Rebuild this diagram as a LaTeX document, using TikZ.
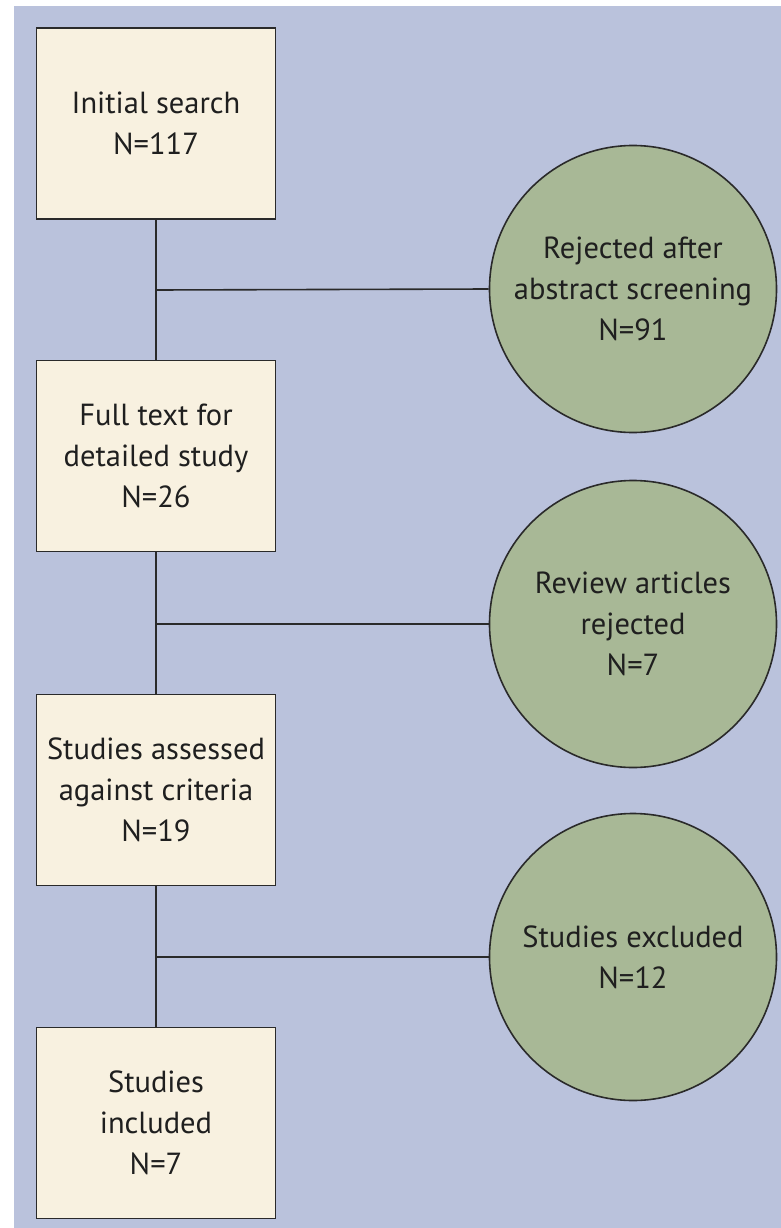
\documentclass[tikz,border=0pt]{standalone}
\usepackage{fontspec}
\setmainfont{PT Sans}
\definecolor{bgblue}{HTML}{BAC2DC}
\definecolor{boxfill}{HTML}{F8F1E0}
\definecolor{circfill}{HTML}{A8B896}
\definecolor{linec}{HTML}{2A2A2A}
\begin{document}
\begin{tikzpicture}[x=1pt,y=-1pt,
  stagebox/.style={draw=linec,line width=1.6pt,fill=boxfill,minimum width=239pt,minimum height=191pt,inner sep=0pt,align=center,font=\fontsize{30.5}{41}\selectfont,text=black!88},
  rejcirc/.style={draw=linec,line width=1.6pt,fill=circfill,circle,minimum size=287pt,inner sep=0pt,align=center,font=\fontsize{30.5}{41}\selectfont,text=black!88},
  link/.style={draw=linec,line width=1.6pt}]
\useasboundingbox (0,0) rectangle (781,1228);
\fill[white] (0,0) rectangle (781,1228);
\fill[bgblue] (14,6) rectangle (781,1228);
\coordinate (j1) at (156,290);
\coordinate (j2) at (156,624);
\coordinate (j3) at (156,957);
\node[stagebox] (b1) at (156,123.5) {Initial search\\N=117};
\node[stagebox] (b2) at (156,456) {Full text for\\detailed study\\N=26};
\node[stagebox] (b3) at (156,790) {Studies assessed\\against criteria\\N=19};
\node[stagebox] (b4) at (156,1123) {Studies\\included\\N=7};
\node[rejcirc] (c1) at (633,289) {Rejected after\\abstract screening\\N=91};
\node[rejcirc] (c2) at (633,624) {Review articles\\rejected\\N=7};
\node[rejcirc] (c3) at (633,957) {Studies excluded\\N=12};
\draw[link] (b1.south) -- (b2.north);
\draw[link] (b2.south) -- (b3.north);
\draw[link] (b3.south) -- (b4.north);
\draw[link] (j1) -- (c1.west);
\draw[link] (j2) -- (c2.west);
\draw[link] (j3) -- (c3.west);
\end{tikzpicture}
\end{document}
